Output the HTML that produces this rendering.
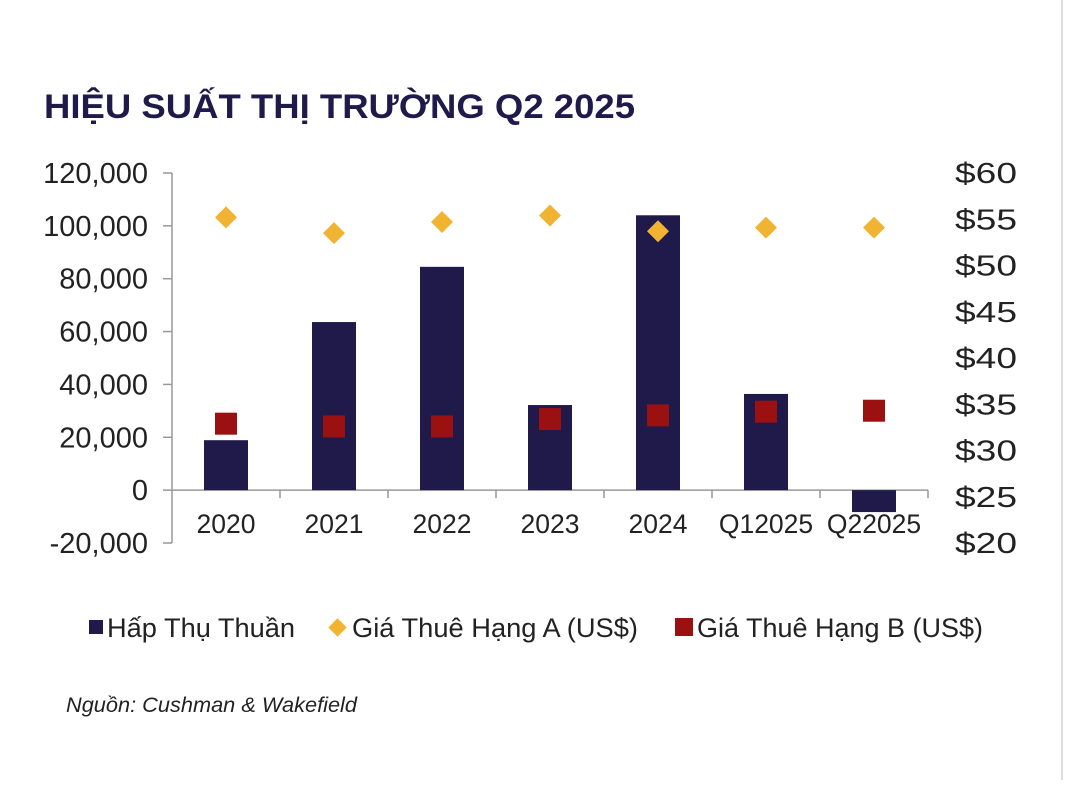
<!DOCTYPE html>
<html><head><meta charset="utf-8">
<style>
body{margin:0;background:#fff;}
svg text{font-family:"Liberation Sans",sans-serif;}
</style></head>
<body>
<svg width="1068" height="780" viewBox="0 0 1068 780">
<rect x="0" y="0" width="1068" height="780" fill="#fff"/>
<line x1="1062" y1="0" x2="1062" y2="780" stroke="#ddd" stroke-width="2"/>
<text x="44" y="118" font-size="34" font-weight="bold" fill="#1f1a4a" textLength="591" lengthAdjust="spacingAndGlyphs">HIỆU SUẤT THỊ TRƯỜNG Q2 2025</text>
<g id="axes"></g>
<g id="marks"></g>
<g>
  <rect x="89" y="620" width="14" height="14" fill="#1f1a4a"/>
  <text x="107" y="637" font-size="27" fill="#222" textLength="188" lengthAdjust="spacingAndGlyphs">Hấp Thụ Thuần</text>
  <rect x="331" y="621" width="13" height="13" fill="#f0b332" transform="rotate(45 337.5 627.5)"/>
  <text x="352" y="637" font-size="27" fill="#222" textLength="286" lengthAdjust="spacingAndGlyphs">Giá Thuê Hạng A (US$)</text>
  <rect x="675" y="618" width="18" height="18" fill="#9b1010"/>
  <text x="697" y="637" font-size="27" fill="#222" textLength="286" lengthAdjust="spacingAndGlyphs">Giá Thuê Hạng B (US$)</text>
</g>
<text x="66" y="712" font-size="21" font-style="italic" fill="#222" textLength="291" lengthAdjust="spacingAndGlyphs">Nguồn: Cushman &amp; Wakefield</text>
</svg>
<script>
const categories=["2020","2021","2022","2023","2024","Q12025","Q22025"];
const absorption=[18900,63600,84500,32200,104000,36400,-8300];
const gradeA=[55.2,53.5,54.7,55.4,53.7,54.1,54.1];
const gradeB=[32.9,32.6,32.6,33.4,33.8,34.2,34.3];
const leftTicks=[-20000,0,20000,40000,60000,80000,100000,120000];
const rightTicks=[20,25,30,35,40,45,50,55,60];

const NS="http://www.w3.org/2000/svg";
const x0=172,x1=928,yTop=173,yBot=543;
const yL=v=>yBot-(v+20000)/140000*(yBot-yTop);
const yR=v=>yBot-(v-20)/40*(yBot-yTop);
const band=(x1-x0)/categories.length;
const xC=i=>x0+band*(i+0.5);
function mk(tag,attrs,parent,text){const e=document.createElementNS(NS,tag);for(const k in attrs)e.setAttribute(k,attrs[k]);if(text!==undefined)e.textContent=text;parent.appendChild(e);return e;}
const axes=document.getElementById('axes'),marks=document.getElementById('marks');
const fmt=v=>v.toLocaleString('en-US');

let e=mk('line',{x1:x0,y1:yTop,x2:x0,y2:yBot,stroke:'#999','stroke-width':1.5},axes);


leftTicks.forEach(v=>{
  const t=mk('line',{x1:x0-9,y1:yL(v),x2:x0,y2:yL(v),stroke:'#999','stroke-width':1.5},axes);
  
  
  const l=mk('text',{x:148,y:yL(v)+10,'text-anchor':'end','font-size':29,fill:'#222'},axes,fmt(v));
  
  
});
rightTicks.forEach(v=>{
  const l=mk('text',{x:955,y:yR(v)+10,'font-size':29,fill:'#222',textLength:62,lengthAdjust:'spacingAndGlyphs'},axes,'$'+v);
  
  
});
const z=yL(0);
e=mk('line',{x1:x0,y1:z,x2:x1,y2:z,stroke:'#999','stroke-width':1.5},axes);


for(let i=1;i<=categories.length;i++){
  const t=mk('line',{x1:x0+band*i,y1:z,x2:x0+band*i,y2:z+8,stroke:'#999','stroke-width':1.5},axes);
  
  
}
categories.forEach((c,i)=>{
  const l=mk('text',{x:xC(i),y:z+43,'text-anchor':'middle','font-size':26.5,fill:'#222'},axes,c);
  
  
});
absorption.forEach((v,i)=>{
  const y=Math.min(yL(v),z),h=Math.abs(yL(v)-z);
  const b=mk('rect',{x:xC(i)-22,y:y,width:44,height:h,fill:'#1f1a4a'},marks);
  
  
});
gradeA.forEach((v,i)=>{
  const cx=xC(i),cy=yR(v),s=11;
  const p=mk('polygon',{points:`${cx},${cy-s} ${cx+s},${cy} ${cx},${cy+s} ${cx-s},${cy}`,fill:'#f0b332'},marks);
  
  
});
gradeB.forEach((v,i)=>{
  const cx=xC(i),cy=yR(v);
  const p=mk('rect',{x:cx-11,y:cy-11,width:22,height:22,fill:'#9b1010'},marks);
  
  
});
</script>
</body></html>
